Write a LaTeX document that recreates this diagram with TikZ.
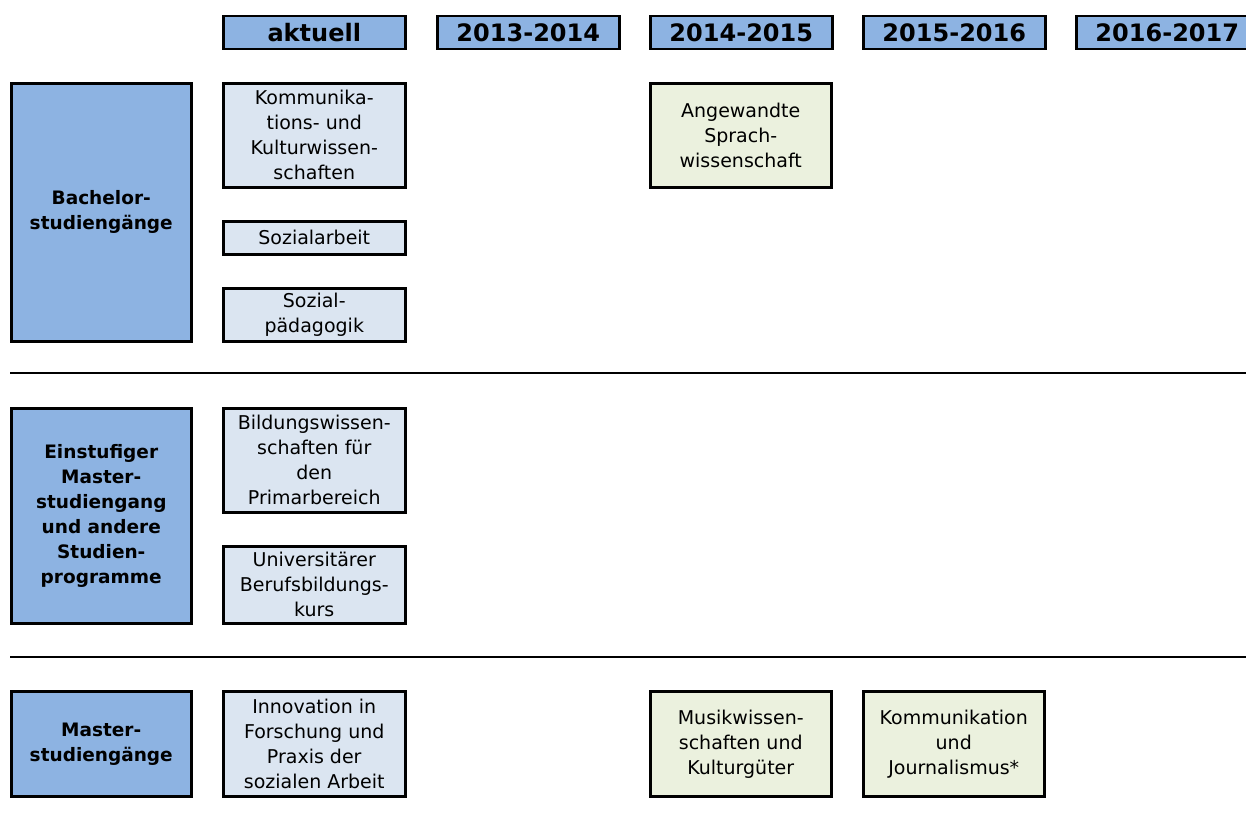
\documentclass[tikz,border=0pt]{standalone}
\usepackage{fontspec}
\setmainfont{DejaVu Sans}
\definecolor{catblue}{HTML}{8DB3E2}
\definecolor{lightblue}{HTML}{DBE5F1}
\definecolor{lightgreen}{HTML}{EBF1DE}
\begin{document}
\begin{tikzpicture}[x=1pt,y=-1pt,
  base/.style={draw=black,line width=2.5pt,anchor=north west,inner sep=0pt,align=center,text=black},
  head/.style={base,fill=catblue,minimum width=182pt,minimum height=33pt,font=\fontsize{24}{28}\selectfont\bfseries},
  cat/.style={base,fill=catblue,minimum width=180pt,font=\fontsize{18.5}{25}\selectfont\bfseries},
  cur/.style={base,fill=lightblue,minimum width=182pt,font=\fontsize{19}{25}\selectfont},
  fut/.style={base,fill=lightgreen,minimum width=181pt,font=\fontsize{19}{25}\selectfont},
  sep/.style={line width=2.5pt,draw=black}]
\useasboundingbox (0,0) rectangle (1246,816);
\begin{scope}
\clip (0,0) rectangle (1246,816);
% headers
\node[head] (h0) at (222,15) {aktuell};
\node[head] (h1) at (436,15) {2013-2014};
\node[head] (h2) at (649,15) {2014-2015};
\node[head] (h3) at (862,15) {2015-2016};
\node[head] (h4) at (1075,15) {2016-2017};
% categories
\node[cat,minimum height=258pt] (c1) at (10,82) {Bachelor-\\studiengänge};
\node[cat,minimum height=215pt] (c2) at (10,407) {Einstufiger\\Master-\\studiengang\\und andere\\Studien-\\programme};
\node[cat,minimum height=105pt] (c3) at (10,690) {Master-\\studiengänge};
% separators
\coordinate (s1a) at (10,373); \coordinate (s1b) at (1246,373);
\coordinate (s2a) at (10,657); \coordinate (s2b) at (1246,657);
\draw[sep] (s1a) -- (s1b);
\draw[sep] (s2a) -- (s2b);
% current
\node[cur,minimum height=104pt] (b1) at (222,82) {Kommunika-\\tions- und\\Kulturwissen-\\schaften};
\node[cur,minimum height=33pt] (b2) at (222,220) {Sozialarbeit};
\node[cur,minimum height=53pt] (b3) at (222,287) {Sozial-\\pädagogik};
\node[cur,minimum height=104pt] (e1) at (222,407) {Bildungswissen-\\schaften für\\den\\Primarbereich};
\node[cur,minimum height=77pt] (e2) at (222,545) {Universitärer\\Berufsbildungs-\\kurs};
\node[cur,minimum height=105pt] (m1) at (222,690) {Innovation in\\Forschung und\\Praxis der\\sozialen Arbeit};
% future
\node[fut,minimum height=104pt] (f1) at (649,82) {Angewandte\\Sprach-\\wissenschaft};
\node[fut,minimum height=105pt] (f2) at (649,690) {Musikwissen-\\schaften und\\Kulturgüter};
\node[fut,minimum height=105pt] (f3) at (862,690) {Kommunikation\\und\\Journalismus*};
\end{scope}
\end{tikzpicture}
\end{document}
